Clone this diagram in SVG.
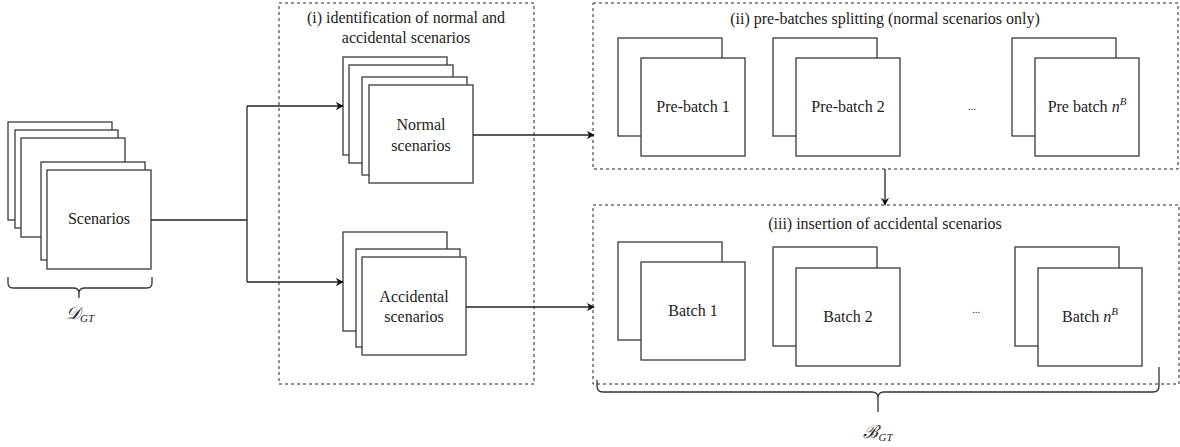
<svg xmlns="http://www.w3.org/2000/svg" width="1180" height="447" viewBox="0 0 1180 447">
<style>
.card{fill:#fff;stroke:#3a3a3a;stroke-width:1.3}
.frame{fill:none;stroke:#222;stroke-width:1;stroke-dasharray:3 3}
.wire{fill:none;stroke:#222;stroke-width:1.3}
.brace{fill:none;stroke:#333;stroke-width:1.3}
text{font-family:"Liberation Serif","Times New Roman",serif;font-size:16px;fill:#222;text-anchor:middle}
.dots{font-size:11px}
.math{font-style:italic}
</style>
<defs>
<marker id="arr" viewBox="0 0 10 10" refX="9" refY="5" markerWidth="8" markerHeight="8" markerUnits="userSpaceOnUse" orient="auto">
<path d="M0,0 L10,5 L0,10 L3,5 z" fill="#111"/>
</marker>
</defs>

<g id="scenarios">
<rect class="card" x="8" y="122" width="104" height="98"/>
<rect class="card" x="15" y="130" width="103" height="98"/>
<rect class="card" x="21" y="138" width="104" height="99"/>
<rect class="card" x="41" y="162" width="104" height="98"/>
<rect class="card" x="47" y="170" width="104" height="99"/>
<text x="99" y="224">Scenarios</text>
</g>

<g id="dgt">
<path class="brace" d="M8,277 L8,283 Q8,288 13,288 L73,288 Q79,288 79,293 L79,298 M79,293 Q79,288 85,288 L147,288 Q152,288 152,283 L152,277"/>
<text x="80" y="319"><tspan class="math" font-size="18">𝒟</tspan><tspan class="math" font-size="11" dy="3">GT</tspan></text>
</g>

<g id="stage1">
<rect class="frame" x="279" y="3" width="255" height="381"/>
<text x="406" y="23">(i) identification of normal and</text>
<text x="406" y="43">accidental scenarios</text>
</g>

<g id="normal">
<rect class="card" x="343" y="57" width="104" height="98"/>
<rect class="card" x="349" y="65" width="104" height="98"/>
<rect class="card" x="362" y="77" width="105" height="98"/>
<rect class="card" x="369" y="85" width="104" height="98"/>
<text x="421" y="130">Normal</text>
<text x="421" y="151">scenarios</text>
</g>

<g id="accidental">
<rect class="card" x="343" y="232" width="104" height="99"/>
<rect class="card" x="356" y="249" width="104" height="98"/>
<rect class="card" x="362" y="257" width="104" height="98"/>
<text x="414" y="302">Accidental</text>
<text x="414" y="322">scenarios</text>
</g>

<g id="stage2">
<rect class="frame" x="593" y="3" width="585" height="166"/>
<text x="885" y="24">(ii) pre-batches splitting (normal scenarios only)</text>
</g>

<g id="prebatch1">
<rect class="card" x="618" y="38" width="104" height="98"/>
<rect class="card" x="641" y="58" width="104" height="98"/>
<text x="693" y="112">Pre-batch 1</text>
</g>
<g id="prebatch2">
<rect class="card" x="773" y="38" width="104" height="98"/>
<rect class="card" x="796" y="58" width="104" height="98"/>
<text x="848" y="112">Pre-batch 2</text>
</g>
<g id="predots"><text class="dots" x="972" y="110">...</text></g>
<g id="prebatchn">
<rect class="card" x="1012" y="38" width="104" height="98"/>
<rect class="card" x="1035" y="58" width="104" height="98"/>
<text x="1087" y="112">Pre batch <tspan class="math">n</tspan><tspan class="math" font-size="11" dy="-7">B</tspan></text>
</g>

<g id="stage3">
<rect class="frame" x="593" y="205" width="586" height="179"/>
<text x="885" y="229">(iii) insertion of accidental scenarios</text>
</g>

<g id="batch1">
<rect class="card" x="618" y="242" width="104" height="98"/>
<rect class="card" x="641" y="262" width="104" height="98"/>
<text x="693" y="316">Batch 1</text>
</g>
<g id="batch2">
<rect class="card" x="773" y="247" width="104" height="99"/>
<rect class="card" x="796" y="268" width="104" height="98"/>
<text x="848" y="322">Batch 2</text>
</g>
<g id="batchdots"><text class="dots" x="976" y="313">...</text></g>
<g id="batchn">
<rect class="card" x="1015" y="247" width="104" height="99"/>
<rect class="card" x="1038" y="268" width="104" height="98"/>
<text x="1090" y="322">Batch <tspan class="math">n</tspan><tspan class="math" font-size="11" dy="-7">B</tspan></text>
</g>

<g id="bgt">
<path class="brace" d="M597,380 L597,386 Q597,392 603,392 L872,392 Q878,392 878,398 L878,412 M878,398 Q878,392 884,392 L1153,392 Q1159,392 1159,386 L1159,367"/>
<text x="878" y="438"><tspan class="math" font-size="18">ℬ</tspan><tspan class="math" font-size="11" dy="3">GT</tspan></text>
</g>

<g id="connectors">
<path class="wire" d="M151,220 L247,220"/>
<path class="wire" d="M247,106 L247,282"/>
<path class="wire" d="M247,106 L343,106" marker-end="url(#arr)"/>
<path class="wire" d="M247,282 L343,282" marker-end="url(#arr)"/>
<path class="wire" d="M473,135 L594,135" marker-end="url(#arr)"/>
<path class="wire" d="M466,307 L594,307" marker-end="url(#arr)"/>
<path class="wire" d="M885,169 L885,205" marker-end="url(#arr)"/>
</g>
</svg>
